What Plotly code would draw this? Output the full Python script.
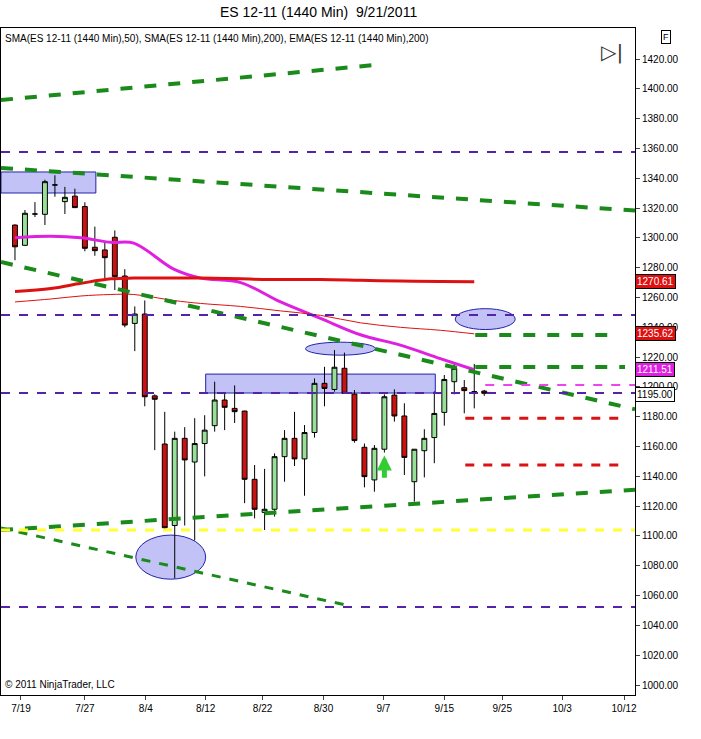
import plotly.graph_objects as go

idx = list(range(48))
opens = [1308.6,1295,1316,1315.8,1335.5,1324.3,1328,1321,1293.7,1291.9,1300.4,1274.4,1242.6,1248.9,1194,1161.7,1107,1165.5,1149.6,1162,1174,1191.2,1185.6,
         1183.8,1138,1115.8,1117.9,1153.2,1165.5,1151.7,1169.4,1202.4,1198.3,1212.5,1195.2,1159.5,1137.6,1158.2,1194.5,1180.5,1136.4,1157.2,1166,1182.9,1203.5,1199.5,1196.8,1197.2]
highs = [1309,1318.7,1324,1339,1342,1334.2,1333,1323.9,1307.5,1297,1305,1279,1254,1258,1195,1183.3,1170,1173,1179,1181,1203.5,1196,1201,
         1184,1147.6,1145,1155.4,1171,1183.3,1174.4,1205.7,1213.5,1224.7,1223,1197.9,1162,1161,1195,1198.4,1189,1158,1171.6,1197,1208,1215.6,1204.6,1215.4,1198]
lows = [1285,1294.5,1314,1308.6,1327.6,1316,1320,1291,1288,1272.8,1265,1240,1224,1187,1157.6,1105,1071.6,1107,1097,1140,1170,1171,1175.8,
        1122,1111.8,1104,1113,1136.4,1146.9,1127,1166,1187,1196.8,1195.7,1162.6,1132.6,1129.7,1156,1176.7,1140.9,1123,1139.3,1148.8,1174,1195,1182.3,1185.6,1194]
closes = [1294,1316.5,1316,1337.7,1335.5,1327.2,1320.3,1293,1291.4,1286.7,1274,1241.5,1248.9,1193.4,1191.7,1105.5,1165.5,1151,1162,1171,1191.2,1186.3,1183.4,
          1138,1117.9,1117.9,1153.2,1165.5,1151.7,1169.4,1202.4,1199,1213.2,1195.7,1164,1139.8,1158.8,1193.4,1180.5,1152.7,1158.2,1165.5,1182.2,1205,1212.5,1197.5,1196.8,1195.7]

ind_x = [0,3.6,6.6,9.6,11.9,15.9,18.6,22.6,26.6,30.6,34.6,38.6,42.6,46]
sma50 = [1300,1301,1300,1297,1296.5,1279,1273,1270,1257,1246,1235,1228,1219,1211.5]
sma200 = [1264,1266,1269.5,1272.5,1273,1273,1273,1272.5,1272,1272,1271.5,1271,1270.8,1270.6]
ema200 = [1257,1259,1261,1262,1262,1258,1256,1254,1251,1248,1243,1240,1238,1235.6]

ticks_y = list(range(1000, 1421, 20))
date_pos = [0.6,7,13.1,19.1,24.8,30.9,36.9,43,48.8,54.8,61]
date_lbl = ["7/19","7/27","8/4","8/12","8/22","8/30","9/7","9/15","9/25","10/3","10/12"]

fig = go.Figure()
fig.add_trace(go.Candlestick(x=idx, open=opens, high=highs, low=lows, close=closes,
    increasing=dict(fillcolor="#98e098", line=dict(color="black", width=1)),
    decreasing=dict(fillcolor="#cc1111", line=dict(color="black", width=1)),
    whiskerwidth=0, showlegend=False))
fig.add_trace(go.Scatter(x=ind_x, y=sma50, mode="lines", line=dict(color="#e020e0", width=3, shape="spline"), showlegend=False))
fig.add_trace(go.Scatter(x=ind_x, y=sma200, mode="lines", line=dict(color="#dd1111", width=3, shape="spline"), showlegend=False))
fig.add_trace(go.Scatter(x=ind_x, y=ema200, mode="lines", line=dict(color="#dd1111", width=1, shape="spline"), showlegend=False))

G = "#1a8a1a"
def seg(x0, y0, x1, y1, color, width, dash="dash"):
    fig.add_shape(type="line", x0=x0, y0=y0, x1=x1, y1=y1, line=dict(color=color, width=width, dash=dash), layer="above")

seg(-1.4,1392.5,36.1,1416,G,4)
seg(-1.4,1346.9,62.1,1318.3,G,4)
seg(-1.4,1283.8,62.1,1185,G,4)
seg(-1.4,1104,62.1,1131,G,4)
seg(-1.4,1105.3,33.1,1053.7,G,3)
seg(46.1,1234.8,60.1,1234.8,G,4)
seg(46.1,1213.3,61.1,1213.3,G,4)
seg(45.1,1179,61.1,1179,"#dd1111",3)
seg(45.1,1147.6,61.1,1147.6,"#dd1111",3)
seg(47.1,1201.3,62.1,1201.3,"#ee44ee",2)
for p in [1357.6,1248.2,1195.9,1052.3]:
    seg(-1.4,p,62.1,p,"#5522aa",2)
seg(-1.4,1104,62.1,1104,"#ffff33",3)

for (x0,x1,y0,y1) in [(-1.4,8.1,1330.1,1344.2),(19.1,42.1,1195.9,1208.6)]:
    fig.add_shape(type="rect", x0=x0, x1=x1, y0=y0, y1=y1, fillcolor="rgba(120,120,235,0.45)", line=dict(color="#2222aa", width=1), layer="below")
for (x0,x1,y0,y1) in [(44.1,50.1,1238.5,1252.5),(29.1,36.1,1221.3,1230),(12.1,19.1,1071,1100.6)]:
    fig.add_shape(type="circle", x0=x0, x1=x1, y0=y0, y1=y1, fillcolor="rgba(120,120,235,0.45)", line=dict(color="#2222aa", width=1), layer="below")

fig.add_annotation(x=37, y=1154, ax=37, ay=1138, xref="x", yref="y", axref="x", ayref="y", text="",
                   showarrow=True, arrowhead=2, arrowsize=0.6, arrowwidth=5, arrowcolor="#33cc33")

for val, txt, bg, fc in [(1270.61,"1270.61","#dd1111","white"),(1235.62,"1235.62","#dd1111","white"),
                         (1211.51,"1211.51","#e020e0","white"),(1195.0,"1195.00","white","black")]:
    fig.add_annotation(x=1, xref="paper", y=val, yref="y", text=txt, showarrow=False, xanchor="left",
                       font=dict(size=10, color=fc, family="Arial"), bgcolor=bg, bordercolor="black", borderwidth=1, borderpad=1)

fig.add_annotation(x=0.5, xref="paper", y=1.0, yref="paper", yshift=6, text="ES 12-11 (1440 Min)  9/21/2011",
                   showarrow=False, font=dict(size=14, color="black", family="Arial"), yanchor="bottom")
fig.add_annotation(x=0.003, xref="paper", y=0.995, yref="paper", xanchor="left", yanchor="top",
                   text="SMA(ES 12-11 (1440 Min),50), SMA(ES 12-11 (1440 Min),200), EMA(ES 12-11 (1440 Min),200)",
                   showarrow=False, font=dict(size=10, color="black", family="Arial"))
fig.add_annotation(x=0.003, xref="paper", y=0.005, yref="paper", xanchor="left", yanchor="bottom",
                   text="© 2011 NinjaTrader, LLC", showarrow=False, font=dict(size=10, color="black", family="Arial"))
fig.add_annotation(x=0.985, xref="paper", y=0.985, yref="paper", xanchor="right", yanchor="top",
                   text="▷|", showarrow=False, font=dict(size=20, color="#333333", family="DejaVu Sans"))
fig.add_annotation(x=1, xref="paper", y=1.0, yref="paper", xanchor="left", yanchor="top", xshift=26, yshift=-2,
                   text="F", showarrow=False, font=dict(size=9, color="black", family="Arial"),
                   bordercolor="black", borderwidth=1, borderpad=1)

fig.update_layout(width=701, height=739, margin=dict(l=1, r=66, t=28, b=44, autoexpand=False),
                  paper_bgcolor="white", plot_bgcolor="white",
                  xaxis=dict(range=[-1.4, 62.1], tickvals=date_pos, ticktext=date_lbl, showgrid=False, zeroline=False,
                             rangeslider=dict(visible=False), showline=True, linecolor="black", mirror=True,
                             ticks="outside", ticklen=4, tickfont=dict(size=10, family="Arial", color="black")),
                  yaxis=dict(range=[993.3, 1440.8], side="right", tickvals=ticks_y, ticktext=[f"{v}.00" for v in ticks_y],
                             showgrid=False, zeroline=False, showline=True, linecolor="black", mirror=True,
                             ticks="outside", ticklen=4, tickfont=dict(size=10, family="Arial", color="black")))
fig.write_html("out.html", config={"displayModeBar": False}, post_script="document.body.style.margin='0';")
